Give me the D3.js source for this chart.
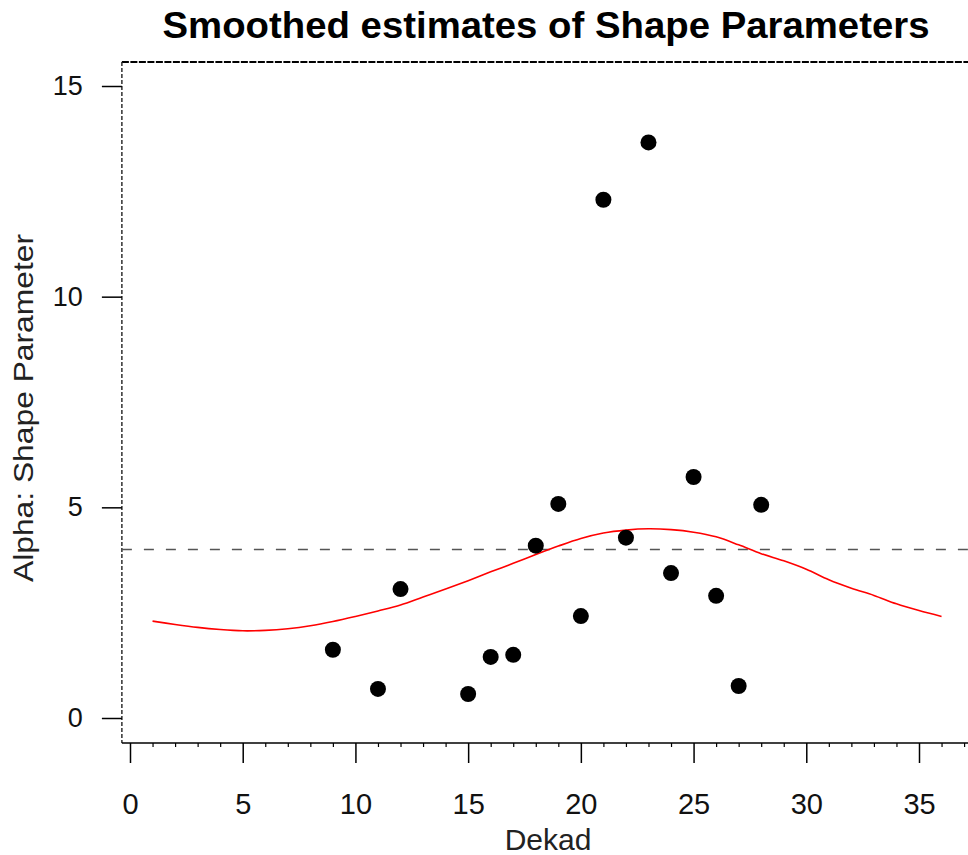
<!DOCTYPE html>
<html>
<head>
<meta charset="utf-8">
<script src="https://cdn.jsdelivr.net/npm/d3@7"></script>
<style>
  html, body { margin: 0; padding: 0; background: #fff; }
  svg { display: block; }
  text { font-family: "Liberation Sans", Arial, Helvetica, sans-serif; }
</style>
</head>
<body>
<svg id="chart" width="968" height="855"></svg>
<script>
// ---- data ----
const dekads = [9, 11, 12, 15, 16, 17, 18, 19, 20, 21, 22, 23, 24, 25, 26, 27, 28];
const alphaValues = [1.62, 0.69, 3.06, 0.57, 1.45, 1.50, 4.09, 5.08, 2.42, 12.30, 4.28, 13.66, 3.44, 5.72, 2.90, 0.76, 5.06];

const smoothDekads = [1,2,3,4,5,6,7,8,9,10,11,12,13,14,15,16,17,18,19,20,21,22,23,24,25,26,27,28,29,30,31,32,33,34,35,36];
const smoothValues = [2.30,2.22,2.15,2.10,2.07,2.08,2.12,2.19,2.29,2.41,2.54,2.68,2.87,3.06,3.26,3.47,3.67,3.88,4.08,4.26,4.39,4.46,4.49,4.47,4.41,4.30,4.11,3.90,3.73,3.53,3.28,3.08,2.91,2.71,2.55,2.41];

const referenceLevel = 4;

const xTicks = [0, 5, 10, 15, 20, 25, 30, 35];
const xMinorTicks = d3.range(0, 38);
const yTicks = [0, 5, 10, 15];

const titleText = "Smoothed estimates of Shape Parameters";
const xLabel = "Dekad";
const yLabel = "Alpha: Shape Parameter";

// ---- layout ----
const svg = d3.select("#chart");
const x = d3.scaleLinear().domain([0, 35]).range([130, 919]);
const y = d3.scaleLinear().domain([0, 15]).range([718, 86]);

const frameLeft = x(-0.36), frameRight = 968, frameTop = 62, frameBottom = 743;

// title
svg.append("text")
  .attr("x", 546).attr("y", 38)
  .attr("text-anchor", "middle")
  .attr("font-weight", "bold")
  .attr("font-size", 36)
  .attr("textLength", 767)
  .attr("lengthAdjust", "spacingAndGlyphs")
  .attr("fill", "#000")
  .text(titleText);

// frame: top (dotted) and left (dashed)
svg.append("line")
  .attr("x1", frameLeft).attr("x2", frameRight)
  .attr("y1", frameTop).attr("y2", frameTop)
  .attr("stroke", "#000").attr("stroke-width", 2)
  .attr("stroke-dasharray", "7,1.5");
svg.append("line")
  .attr("x1", frameLeft).attr("x2", frameLeft)
  .attr("y1", frameTop).attr("y2", frameBottom)
  .attr("stroke", "#222").attr("stroke-width", 1.4)
  .attr("stroke-dasharray", "4,2");

// bottom axis line
svg.append("line")
  .attr("x1", frameLeft).attr("x2", frameRight)
  .attr("y1", frameBottom).attr("y2", frameBottom)
  .attr("stroke", "#000").attr("stroke-width", 1.6);

// x axis (major ticks + labels)
const xAxis = d3.axisBottom(x).tickValues(xTicks).tickSize(20).tickPadding(30).tickFormat(d3.format("d"));
const gx = svg.append("g").attr("transform", `translate(0,${frameBottom})`).call(xAxis);
gx.select(".domain").remove();
gx.selectAll(".tick line").attr("stroke", "#000").attr("stroke-width", 1.5);
gx.selectAll(".tick text")
  .attr("font-family", '"Liberation Sans", Arial, sans-serif')
  .attr("font-size", 29).attr("fill", "#111");

// minor ticks
const xMinor = d3.axisBottom(x).tickValues(xMinorTicks.filter(d => d % 5 !== 0)).tickSize(4).tickFormat("");
const gxm = svg.append("g").attr("transform", `translate(0,${frameBottom})`).call(xMinor);
gxm.select(".domain").remove();
gxm.selectAll(".tick line").attr("stroke", "#000").attr("stroke-width", 1.2);

// y axis
const yAxis = d3.axisLeft(y).tickValues(yTicks).tickSize(20).tickPadding(19).tickFormat(d3.format("d"));
const gy = svg.append("g").attr("transform", `translate(${frameLeft},0)`).call(yAxis);
gy.select(".domain").remove();
gy.selectAll(".tick line").attr("stroke", "#000").attr("stroke-width", 1.5);
gy.selectAll(".tick text")
  .attr("font-family", '"Liberation Sans", Arial, sans-serif')
  .attr("font-size", 27).attr("fill", "#111");

// axis titles
svg.append("text")
  .attr("x", 548).attr("y", 850)
  .attr("text-anchor", "middle")
  .attr("font-size", 30).attr("fill", "#222")
  .text(xLabel);
svg.append("text")
  .attr("transform", `translate(33,408) rotate(-90)`)
  .attr("text-anchor", "middle")
  .attr("font-size", 28)
  .attr("textLength", 348)
  .attr("lengthAdjust", "spacingAndGlyphs")
  .attr("fill", "#222")
  .text(yLabel);

// reference dashed line
svg.append("line")
  .attr("x1", frameLeft).attr("x2", frameRight)
  .attr("y1", y(referenceLevel)).attr("y2", y(referenceLevel))
  .attr("stroke", "#555").attr("stroke-width", 1.5)
  .attr("stroke-dasharray", "10,12");

// smoothed curve
const line = d3.line()
  .x((d, i) => x(smoothDekads[i]))
  .y(d => y(d))
  .curve(d3.curveCatmullRom);
svg.append("path")
  .datum(smoothValues)
  .attr("d", line)
  .attr("fill", "none")
  .attr("stroke", "#ff0000")
  .attr("stroke-width", 1.6);

// points
svg.append("g").selectAll("circle")
  .data(alphaValues)
  .join("circle")
  .attr("cx", (d, i) => x(dekads[i]))
  .attr("cy", d => y(d))
  .attr("r", 8)
  .attr("fill", "#000");
</script>
</body>
</html>
